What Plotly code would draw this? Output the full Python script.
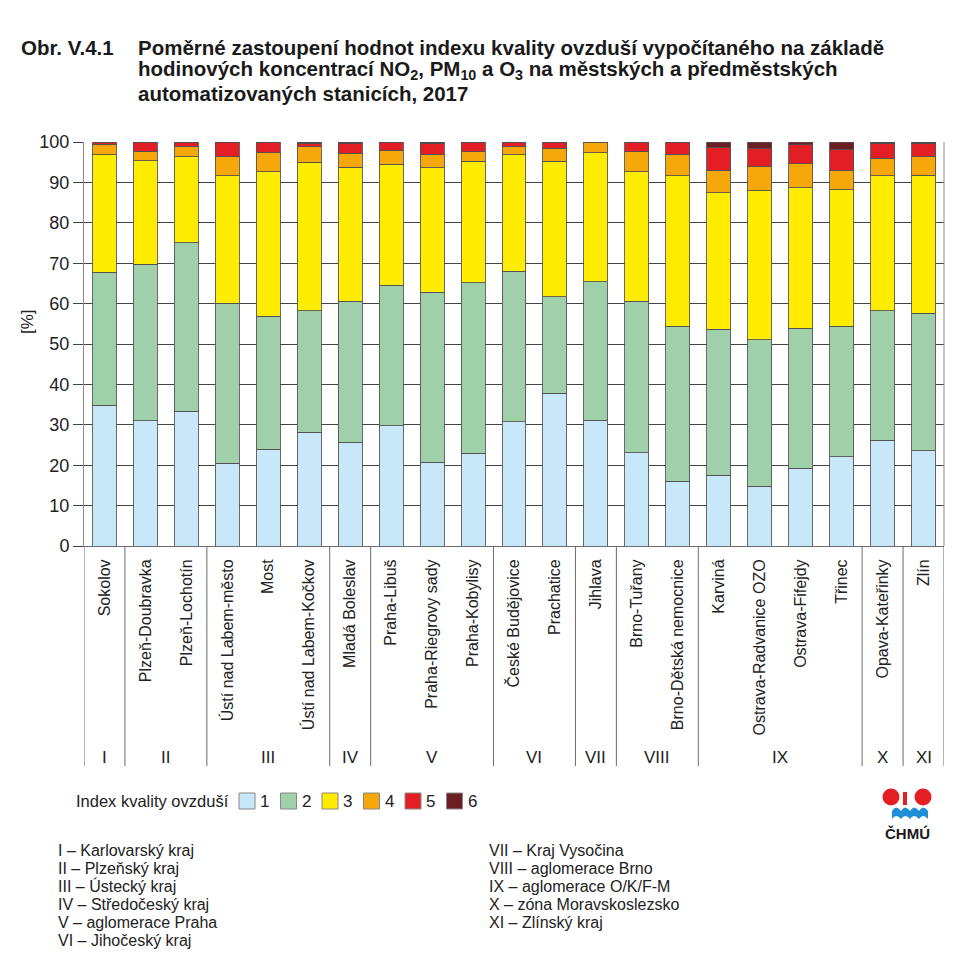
import plotly.graph_objects as go

stations = ["Sokolov", "Plzeň-Doubravka", "Plzeň-Lochotín", "Ústí nad Labem-město", "Most",
            "Ústí nad Labem-Kočkov", "Mladá Boleslav", "Praha-Libuš", "Praha-Riegrovy sady",
            "Praha-Kobylisy", "České Budějovice", "Prachatice", "Jihlava", "Brno-Tuřany",
            "Brno-Dětská nemocnice", "Karviná", "Ostrava-Radvanice OZO", "Ostrava-Fifejdy",
            "Třinec", "Opava-Kateřinky", "Zlín"]
groups = ["I", "II", "III", "IV", "V", "VI", "VII", "VIII", "IX", "X", "XI"]
group_sizes = [1, 2, 3, 1, 3, 2, 1, 2, 4, 1, 1]
group_names = ["Karlovarský kraj", "Plzeňský kraj", "Ústecký kraj", "Středočeský kraj",
               "aglomerace Praha", "Jihočeský kraj", "Kraj Vysočina", "aglomerace Brno",
               "aglomerace O/K/F-M", "zóna Moravskoslezsko", "Zlínský kraj"]

index_labels = ["1", "2", "3", "4", "5", "6"]
idx1 = [34.8, 31.0, 33.3, 20.5, 23.9, 28.2, 25.7, 29.8, 20.7, 22.9, 30.8, 37.8, 31.1, 23.1, 16.0, 17.5, 14.8, 19.3, 22.1, 26.2, 23.6]
idx2 = [32.9, 38.8, 41.8, 39.6, 33.0, 30.0, 34.9, 34.7, 42.1, 42.3, 37.2, 23.9, 34.3, 37.5, 38.4, 36.1, 36.2, 34.6, 32.3, 32.0, 34.0]
idx3 = [29.1, 25.5, 21.2, 31.5, 35.7, 36.8, 33.2, 30.0, 30.8, 30.0, 28.9, 33.5, 31.9, 32.0, 37.2, 33.8, 36.9, 34.8, 33.8, 33.4, 34.2]
idx4 = [2.7, 2.4, 2.6, 4.8, 4.7, 3.8, 3.4, 3.5, 3.4, 2.4, 1.9, 3.2, 2.5, 5.0, 5.4, 5.6, 6.1, 5.9, 4.8, 4.4, 4.5]
idx5 = [0.5, 2.3, 1.1, 3.4, 2.7, 0.9, 2.4, 2.0, 2.7, 2.4, 1.2, 1.6, 0.2, 2.4, 3.0, 5.7, 4.5, 4.7, 5.2, 3.75, 3.4]
idx6 = [0, 0, 0, 0.2, 0, 0.3, 0.4, 0, 0.3, 0, 0, 0, 0, 0, 0, 1.3, 1.5, 0.7, 1.8, 0.25, 0.3]
series = [idx1, idx2, idx3, idx4, idx5, idx6]
colors = ["#c8e8fa", "#9fd0aa", "#ffec00", "#f6a70a", "#e31e24", "#6b1f22"]

title_lines = [
    "<b>Poměrné zastoupení hodnot indexu kvality ovzduší vypočítaného na základě</b>",
    "<b>hodinových koncentrací NO<sub>2</sub>, PM<sub>10</sub> a O<sub>3</sub> na městských a předměstských</b>",
    "<b>automatizovaných stanicích, 2017</b>",
]

OFF = 8  # page body margin
W, H = 976 - OFF, 973 - OFF
# plot area in screen pixels: x 84..944, y 142..546
L, T = 84 - OFF, 142 - OFF
R = W - (944 - OFF)
B = H - (546 - OFF)
PW, PH = W - L - R, H - T - B
FONT = "Liberation Sans, Arial, sans-serif"


def px(x):
    return (x - OFF - L) / PW


def py(y):
    return (H - B - (y - OFF)) / PH


fig = go.Figure()
xs = list(range(len(stations)))
for lab, vals, col in zip(index_labels, series, colors):
    fig.add_trace(go.Bar(x=xs, y=vals, name=lab,
                         marker=dict(color=col, line=dict(color="rgba(80,80,80,0.85)", width=1)),
                         showlegend=False))

shapes = []
annotations = []

# group separators & group labels
bounds = [-0.5]
for s in group_sizes:
    bounds.append(bounds[-1] + s)
for b in bounds:
    shapes.append(dict(type="line", xref="x", yref="paper", x0=b, x1=b, y0=py(546), y1=py(766),
                       line=dict(color="#6b6b6b", width=1)))
for i, g in enumerate(groups):
    annotations.append(dict(x=(bounds[i] + bounds[i + 1]) / 2, y=py(757), xref="x", yref="paper",
                            text=g, showarrow=False, font=dict(family=FONT, size=17, color="#222"),
                            xanchor="center", yanchor="middle"))
# right border
shapes.append(dict(type="line", xref="paper", yref="paper", x0=1, x1=1, y0=1, y1=0,
                   line=dict(color="#8a8a8a", width=1)))

# title
annotations.append(dict(x=px(19), y=py(47), xref="paper", yref="paper", xanchor="left", yanchor="middle",
                        text="<b>Obr. V.4.1</b>", showarrow=False, font=dict(family=FONT, size=20.5, color="#1a1a1a")))
for k, line in enumerate(title_lines):
    annotations.append(dict(x=px(136), y=py(47 + 23.5 * k), xref="paper", yref="paper", xanchor="left",
                            yanchor="middle", align="left", text=line, showarrow=False,
                            font=dict(family=FONT, size=20.5, color="#1a1a1a")))

# y axis title
annotations.append(dict(x=px(27), y=py(322), xref="paper", yref="paper", text="[%]", textangle=-90,
                        xanchor="center", yanchor="middle",
                        showarrow=False, font=dict(family=FONT, size=17, color="#222")))

# manual legend
annotations.append(dict(x=px(231), y=py(801), xref="paper", yref="paper", xanchor="right", yanchor="middle",
                        text="Index kvality ovzduší", showarrow=False, font=dict(family=FONT, size=16.5, color="#222")))
for i, (lab, col) in enumerate(zip(index_labels, colors)):
    x0 = 239 + i * 41.5
    shapes.append(dict(type="rect", xref="paper", yref="paper", x0=px(x0), x1=px(x0 + 16), y0=py(809), y1=py(793),
                       fillcolor=col, line=dict(color="#888", width=1)))
    annotations.append(dict(x=px(x0 + 19), y=py(801), xref="paper", yref="paper", xanchor="left", yanchor="middle",
                            text=lab, showarrow=False, font=dict(family=FONT, size=17, color="#222")))

# region key
for i in range(6):
    annotations.append(dict(x=px(56), y=py(850 + 18 * i), xref="paper", yref="paper", xanchor="left", yanchor="middle",
                            text=f"{groups[i]} – {group_names[i]}", showarrow=False,
                            font=dict(family=FONT, size=16, color="#222")))
for j, i in enumerate(range(6, 11)):
    annotations.append(dict(x=px(487), y=py(850 + 18 * j), xref="paper", yref="paper", xanchor="left", yanchor="middle",
                            text=f"{groups[i]} – {group_names[i]}", showarrow=False,
                            font=dict(family=FONT, size=16, color="#222")))

# logo
for cx in (891, 923):
    shapes.append(dict(type="circle", xref="paper", yref="paper", x0=px(cx - 8.5), x1=px(cx + 8.5),
                       y0=py(805.5), y1=py(788.5), fillcolor="#e31e24", line=dict(width=0)))
shapes.append(dict(type="rect", xref="paper", yref="paper", x0=px(903), x1=px(907), y0=py(805), y1=py(792),
                   fillcolor="#e31e24", line=dict(width=0)))


def pt(x, y):
    return f"{px(x):.5f},{py(y):.5f}"


wave = (f"M {pt(892, 819)} L {pt(892, 811)} Q {pt(896, 804)} {pt(901, 811)} Q {pt(905, 804)} {pt(910, 811)} "
        f"Q {pt(914, 804)} {pt(919, 811)} Q {pt(923, 804)} {pt(928, 811)} L {pt(928, 819)} "
        f"Q {pt(923, 813)} {pt(919, 819)} Q {pt(914, 813)} {pt(910, 819)} Q {pt(905, 813)} {pt(901, 819)} "
        f"Q {pt(896, 813)} {pt(892, 819)} Z")
shapes.append(dict(type="path", xref="paper", yref="paper", path=wave, fillcolor="#1e8fd6", line=dict(width=0)))
annotations.append(dict(x=px(907), y=py(833), xref="paper", yref="paper", text="<b>ČHMÚ</b>", showarrow=False,
                        xanchor="center", yanchor="middle", font=dict(family=FONT, size=15, color="#1a1a1a")))

fig.update_layout(
    width=W, height=H, margin=dict(l=L, r=R, t=T, b=B, pad=0),
    paper_bgcolor="white", plot_bgcolor="white",
    barmode="stack", bargap=0.415,
    font=dict(family=FONT, size=16, color="#222"),
    shapes=shapes, annotations=annotations, showlegend=False,
    xaxis=dict(range=[-0.5, len(stations) - 0.5], tickmode="array", tickvals=xs, ticktext=stations,
               tickangle=-90, ticks="", showgrid=False, zeroline=False, showline=True,
               linecolor="#6b6b6b", linewidth=1, tickfont=dict(family=FONT, size=16, color="#222"),
               ticklabelstandoff=6, fixedrange=True),
    yaxis=dict(range=[0, 100], tickmode="linear", tick0=0, dtick=10, ticks="outside", ticklen=10,
               tickcolor="#444", showgrid=True, gridcolor="#444", gridwidth=1, zeroline=False,
               showline=True, linecolor="#8a8a8a", linewidth=1,
               tickfont=dict(family=FONT, size=18, color="#222"), fixedrange=True),
)

fig.write_html("out.html")
